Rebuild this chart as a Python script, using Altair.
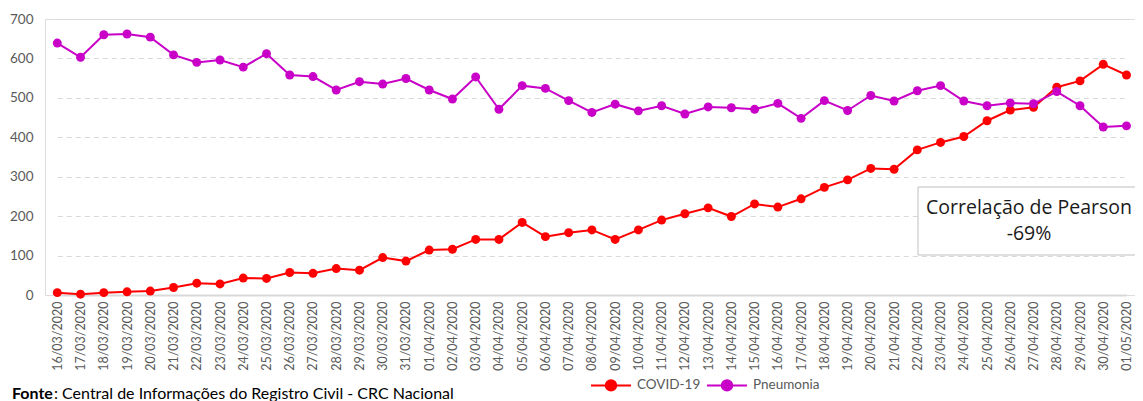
import altair as alt
import pandas as pd

dates = ["16/03/2020", "17/03/2020", "18/03/2020", "19/03/2020", "20/03/2020", "21/03/2020",
         "22/03/2020", "23/03/2020", "24/03/2020", "25/03/2020", "26/03/2020", "27/03/2020",
         "28/03/2020", "29/03/2020", "30/03/2020", "31/03/2020", "01/04/2020", "02/04/2020",
         "03/04/2020", "04/04/2020", "05/04/2020", "06/04/2020", "07/04/2020", "08/04/2020",
         "09/04/2020", "10/04/2020", "11/04/2020", "12/04/2020", "13/04/2020", "14/04/2020",
         "15/04/2020", "16/04/2020", "17/04/2020", "18/04/2020", "19/04/2020", "20/04/2020",
         "21/04/2020", "22/04/2020", "23/04/2020", "24/04/2020", "25/04/2020", "26/04/2020",
         "27/04/2020", "28/04/2020", "29/04/2020", "30/04/2020", "01/05/2020"]

covid = [6, 2, 6, 8, 10, 19, 30, 28, 43, 42, 57, 55, 67, 63, 95, 86, 114, 116, 141, 141,
         184, 148, 158, 165, 141, 165, 190, 206, 221, 199, 231, 223, 244, 273, 292, 321,
         319, 368, 387, 402, 442, 469, 476, 527, 543, 585, 558]

pneumonia = [639, 603, 660, 662, 654, 609, 590, 596, 578, 612, 558, 554, 520, 541, 535, 549,
             520, 497, 553, 471, 531, 524, 493, 463, 484, 467, 480, 459, 477, 475, 471, 486,
             448, 493, 468, 506, 492, 518, 531, 492, 480, 487, 485, 516, 480, 426, 429]

series_names = ["COVID-19", "Pneumonia"]
series_colors = ["#FF0000", "#C800C8"]
y_ticks = [0, 100, 200, 300, 400, 500, 600, 700]

annotation_lines = ["Correlação de Pearson", "-69%"]
source_bold = "Fonte"
source_rest = ": Central de Informações do Registro Civil - CRC Nacional"

FONT = "Lato"
W, H = 1090, 276

rows = []
for i, d in enumerate(dates):
    rows.append({"date": d, "serie": series_names[0], "value": covid[i]})
    rows.append({"date": d, "serie": series_names[1], "value": pneumonia[i]})
df = pd.DataFrame(rows)

legend_path = "M-1,0H1M-0.26,0a0.26,0.26 0 1,0 0.52,0a0.26,0.26 0 1,0 -0.52,0"

x_enc = alt.X("date:N", sort=dates, title=None,
              scale=alt.Scale(range=[12.3, 1081.5], padding=0),
              axis=alt.Axis(labelAngle=-90, ticks=False, domainColor="#D9D9D9", domainWidth=2,
                            labelColor="#595959", labelFontSize=12.5, labelFont=FONT,
                            labelPadding=6, grid=False))
y_enc = alt.Y("value:Q", title=None, scale=alt.Scale(domain=[0, 700], nice=False),
              axis=alt.Axis(values=y_ticks, domain=False, ticks=False, gridDash=[5, 4],
                            gridColor="#D9D9D9", gridWidth=1.2, labelColor="#595959",
                            labelFontSize=13.5, labelFont=FONT, labelPadding=12))
color_enc = alt.Color("serie:N", scale=alt.Scale(domain=series_names, range=series_colors),
                      legend=alt.Legend(title=None, orient="none", direction="horizontal",
                                        legendX=545, legendY=345, symbolType=legend_path,
                                        symbolSize=1600, symbolStrokeWidth=2,
                                        labelFontSize=13.5, labelFont=FONT, labelColor="#595959",
                                        labelOffset=5, columnPadding=2))

base = alt.Chart(df)
lines = base.mark_line(strokeWidth=2).encode(x=x_enc, y=y_enc, color=color_enc)
points = base.mark_point(filled=True, size=80, opacity=1).encode(x=x_enc, y=y_enc, color=color_enc)

one = pd.DataFrame({"k": [0]})
box = alt.Chart(one).mark_rect(fill="white", stroke="#BFBFBF", strokeWidth=1).encode(
    x=alt.value(873), x2=alt.value(W + 6), y=alt.value(168), y2=alt.value(236))
ann1 = alt.Chart(one).mark_text(text=annotation_lines[0], font="Open Sans", fontSize=19.5,
                                color="#1a1a1a", align="center", baseline="middle").encode(
    x=alt.value(984), y=alt.value(189))
ann2 = alt.Chart(one).mark_text(text=annotation_lines[1], font="Open Sans", fontSize=19.5,
                                color="#1a1a1a", align="center", baseline="middle").encode(
    x=alt.value(984), y=alt.value(215))

src1 = alt.Chart(one).mark_text(text=source_bold, font=FONT, fontSize=16, fontWeight="bold",
                                color="#000000", align="left", baseline="alphabetic").encode(
    x=alt.value(-33), y=alt.value(380))
src2 = alt.Chart(one).mark_text(text=source_rest, font=FONT, fontSize=16,
                                color="#000000", align="left", baseline="alphabetic").encode(
    x=alt.value(9), y=alt.value(380))

chart = alt.layer(lines, points, box, ann1, ann2, src1, src2).properties(
    width=W, height=H,
    autosize=alt.AutoSizeParams(type="none"),
    padding={"left": 37, "top": 11, "right": 0, "bottom": 106}
).configure_view(stroke=None).configure(font=FONT)

chart.save("out.html", embed_options={"renderer": "svg", "actions": False})
